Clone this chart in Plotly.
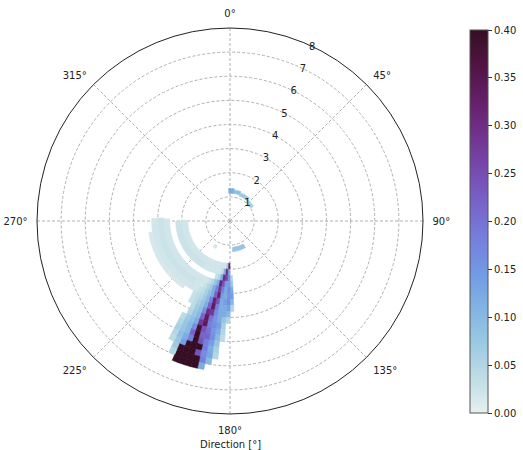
import plotly.graph_objects as go
import plotly.colors as pc

# ---------------- data ----------------
# main bar region: speed bins (start of 0.25-wide bin) x direction bins (2.5 deg wide)
bar_speed_start = [1.75, 2.00, 2.25, 2.50, 2.75, 3.00, 3.25, 3.50, 3.75,
                   4.00, 4.25, 4.50, 4.75, 5.00, 5.25, 5.50, 5.75, 6.00]
bar_dir_center = [178.75, 181.25, 183.75, 186.25, 188.75, 191.25, 193.75,
                  196.25, 198.75, 201.25, 203.75, 206.25, 208.75]
bar_freq = [
    [0.00, 0.32, 0.06, 0.02, 0.02, 0.02, 0.02, 0.02, 0.02, 0.02, 0.02, 0.02, 0.02],
    [0.00, 0.12, 0.30, 0.12, 0.04, 0.02, 0.02, 0.02, 0.02, 0.02, 0.02, 0.02, 0.02],
    [0.05, 0.16, 0.26, 0.30, 0.12, 0.05, 0.03, 0.00, 0.00, 0.00, 0.00, 0.00, 0.00],
    [0.08, 0.14, 0.14, 0.24, 0.32, 0.12, 0.08, 0.05, 0.03, 0.02, 0.02, 0.02, 0.02],
    [0.12, 0.16, 0.12, 0.18, 0.28, 0.18, 0.12, 0.07, 0.05, 0.03, 0.02, 0.02, 0.02],
    [0.14, 0.15, 0.12, 0.14, 0.32, 0.22, 0.12, 0.09, 0.06, 0.04, 0.03, 0.02, 0.02],
    [0.10, 0.16, 0.14, 0.12, 0.24, 0.32, 0.18, 0.10, 0.07, 0.05, 0.04, 0.03, 0.00],
    [0.05, 0.14, 0.12, 0.12, 0.18, 0.34, 0.22, 0.12, 0.08, 0.06, 0.04, 0.03, 0.00],
    [0.00, 0.10, 0.12, 0.12, 0.16, 0.28, 0.30, 0.16, 0.09, 0.07, 0.04, 0.00, 0.00],
    [0.00, 0.05, 0.08, 0.12, 0.15, 0.20, 0.34, 0.22, 0.10, 0.08, 0.05, 0.00, 0.00],
    [0.00, 0.00, 0.06, 0.14, 0.16, 0.18, 0.34, 0.28, 0.12, 0.09, 0.07, 0.04, 0.00],
    [0.00, 0.00, 0.05, 0.12, 0.15, 0.20, 0.24, 0.38, 0.16, 0.10, 0.08, 0.05, 0.00],
    [0.00, 0.00, 0.04, 0.10, 0.16, 0.22, 0.22, 0.40, 0.22, 0.10, 0.08, 0.06, 0.00],
    [0.00, 0.00, 0.00, 0.08, 0.14, 0.18, 0.24, 0.40, 0.18, 0.12, 0.09, 0.05, 0.00],
    [0.00, 0.00, 0.00, 0.06, 0.12, 0.18, 0.40, 0.40, 0.40, 0.14, 0.08, 0.04, 0.00],
    [0.00, 0.00, 0.00, 0.05, 0.13, 0.16, 0.24, 0.40, 0.40, 0.40, 0.07, 0.00, 0.00],
    [0.00, 0.00, 0.00, 0.00, 0.10, 0.18, 0.40, 0.40, 0.40, 0.40, 0.05, 0.00, 0.00],
    [0.00, 0.00, 0.00, 0.00, 0.00, 0.12, 0.40, 0.40, 0.40, 0.40, 0.00, 0.00, 0.00],
]
bar_speed_step = 0.25
bar_dir_step = 2.5

# light arc bands (west-southwest): speed range, direction range, frequency
arc_speed_from = [1.75, 2.00, 2.50, 2.75, 3.00, 3.25]
arc_speed_to = [2.00, 2.25, 2.75, 3.00, 3.25, 3.40]
arc_dir_from = [210.0, 210.0, 210.0, 210.0, 210.0, 215.0]
arc_dir_to = [271.0, 270.0, 272.0, 272.5, 272.0, 262.0]
arc_freq = [0.02, 0.025, 0.02, 0.025, 0.02, 0.015]

# small low-speed patches
small_dir_from = [357.5, 7.5, 20.0, 40.0, 150.0, 207.0]
small_dir_to = [367.5, 20.0, 40.0, 58.0, 175.0, 213.0]
small_speed_from = [1.15, 1.15, 1.10, 1.02, 1.10, 1.15]
small_speed_to = [1.35, 1.30, 1.25, 1.15, 1.28, 1.28]
small_freq = [0.12, 0.09, 0.07, 0.06, 0.08, 0.02]

angle_ticks = [0, 45, 90, 135, 180, 225, 270, 315]
angle_labels = ["0°", "45°", "90°", "135°", "180°", "225°", "270°", "315°"]
radial_ticks = [1, 2, 3, 4, 5, 6, 7, 8]
cbar_ticks = [0.00, 0.05, 0.10, 0.15, 0.20, 0.25, 0.30, 0.35, 0.40]

# ---------------- build cells ----------------
theta, width, base, length, val = [], [], [], [], []
for i, r0 in enumerate(bar_speed_start):
    for j, d in enumerate(bar_dir_center):
        v = bar_freq[i][j]
        if v > 0:
            theta.append(d); width.append(bar_dir_step)
            base.append(r0); length.append(bar_speed_step); val.append(v)
for r0, r1, d0, d1, v in zip(arc_speed_from, arc_speed_to, arc_dir_from, arc_dir_to, arc_freq):
    theta.append((d0 + d1) / 2); width.append(d1 - d0)
    base.append(r0); length.append(r1 - r0); val.append(v)
for d0, d1, r0, r1, v in zip(small_dir_from, small_dir_to, small_speed_from, small_speed_to, small_freq):
    theta.append(((d0 + d1) / 2) % 360); width.append(d1 - d0)
    base.append(r0); length.append(r1 - r0); val.append(v)

cscale = pc.cmocean.dense
cmin, cmax = 0.0, 0.40
line_cols = pc.sample_colorscale(cscale, [(v - cmin) / (cmax - cmin) for v in val])

fig = go.Figure()
fig.add_trace(go.Barpolar(
    theta=theta, r=length, base=base, width=width,
    marker=dict(
        color=val, colorscale=cscale, cmin=cmin, cmax=cmax,
        line=dict(width=0.6, color=line_cols),
        colorbar=dict(
            x=470 / 523, xanchor="left", xpad=0, ypad=0, thickness=18,
            y=(450 - 221.5) / 450, yanchor="middle", len=383 / 450, lenmode="fraction",
            tickvals=cbar_ticks, tickformat=".2f", ticks="outside", ticklen=4,
            tickcolor="#333", outlinecolor="#555", outlinewidth=1,
            tickfont=dict(size=10, color="#222", family="DejaVu Sans"),
        ),
    ),
    hoverinfo="skip",
))

fig.update_layout(
    width=523, height=450,
    margin=dict(l=0, r=0, t=0, b=0, autoexpand=False),
    paper_bgcolor="white",
    showlegend=False,
    font=dict(family="DejaVu Sans", size=10, color="#222"),
    polar=dict(
        domain=dict(x=[37 / 523, 423 / 523], y=[1 - 414 / 450, 1 - 28 / 450]),
        bgcolor="white",
        angularaxis=dict(
            rotation=90, direction="clockwise",
            tickvals=angle_ticks, ticktext=angle_labels,
            showline=True, linecolor="#222", linewidth=1,
            showgrid=True, gridcolor="#b0b0b0", griddash="3px,2px", gridwidth=0.8,
            ticks="outside", ticklen=7, tickcolor="rgba(0,0,0,0)",
            tickfont=dict(size=10, color="#222"),
        ),
        radialaxis=dict(
            range=[0, 8], tickvals=radial_ticks,
            angle=67.5, tickangle=67.5,
            showline=False, ticks="",
            showgrid=True, gridcolor="#b0b0b0", griddash="3px,2px", gridwidth=0.8,
            tickfont=dict(size=10, color="#222"),
        ),
    ),
    annotations=[dict(
        text="Direction [°]", x=230 / 523, y=1 - 444 / 450, xref="paper", yref="paper",
        xanchor="center", yanchor="middle", showarrow=False,
        font=dict(size=10, color="#222"),
    )],
)

fig.write_html(
    "out.html",
    config={"displayModeBar": False},
    post_script="document.body.style.margin='0';document.body.style.overflow='hidden';",
)
